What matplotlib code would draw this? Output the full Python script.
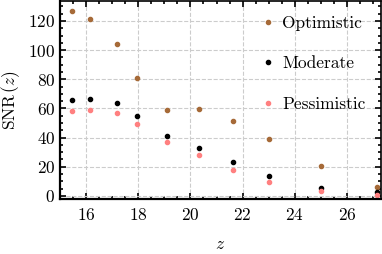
import matplotlib
matplotlib.use('Agg')
import matplotlib.pyplot as plt
from matplotlib.ticker import MultipleLocator

# redshift of each sample
z = [15.47, 16.14, 17.20, 17.94, 19.10, 20.34, 21.64, 23.01, 25.02, 27.14]

snr_optimistic = [126.5, 121.3, 104.4, 81.0, 59.2, 59.4, 51.7, 39.1, 20.3, 6.4]
snr_moderate = [66.0, 66.4, 64.0, 54.8, 41.2, 33.2, 23.2, 13.4, 5.7, 2.5]
snr_pessimistic = [58.0, 58.7, 56.9, 49.6, 36.9, 28.2, 18.0, 9.4, 3.2, 0.9]

labels = ['Optimistic', 'Moderate', 'Pessimistic']
colors = ['#a66a38', 'black', '#ff8080']

plt.rcParams['font.family'] = 'serif'
plt.rcParams['font.serif'] = ['cmr10']
plt.rcParams['mathtext.fontset'] = 'cm'
plt.rcParams['axes.formatter.use_mathtext'] = True
plt.rcParams['font.size'] = 12.5

fig = plt.figure(figsize=(3.82, 2.54), dpi=100)
ax = fig.add_axes([0.157, 0.217, 0.840, 0.781])

for series, lab, c in zip([snr_optimistic, snr_moderate, snr_pessimistic], labels, colors):
    ax.plot(z, series, 'o', ms=3, color=c, label=lab)

ax.set_xlim(15.0, 27.3)
ax.set_ylim(-2, 134)
ax.xaxis.set_major_locator(MultipleLocator(2))
ax.xaxis.set_minor_locator(MultipleLocator(0.5))
ax.yaxis.set_major_locator(MultipleLocator(20))
ax.yaxis.set_minor_locator(MultipleLocator(5))

ax.tick_params(which='both', direction='in', top=True, right=True, width=1.2)
ax.tick_params(which='major', length=4)
ax.tick_params(which='minor', length=2.5)
ax.tick_params(axis='x', which='major', pad=6)
for s in ax.spines.values():
    s.set_linewidth(1.2)
ax.spines['left'].set_linewidth(1.6)
ax.spines['bottom'].set_linewidth(1.6)

ax.grid(True, which='major', ls='--', color='#cccccc', lw=0.8)

ax.set_xlabel('$z$', labelpad=10)
ax.set_ylabel('SNR$\\,(z)$', labelpad=4)

ax.legend(loc='upper right', bbox_to_anchor=(0.99, 0.985), frameon=False,
          handletextpad=0.3, labelspacing=1.45, handlelength=1.0, borderaxespad=0.3)

fig.savefig('out.png', dpi=100)
